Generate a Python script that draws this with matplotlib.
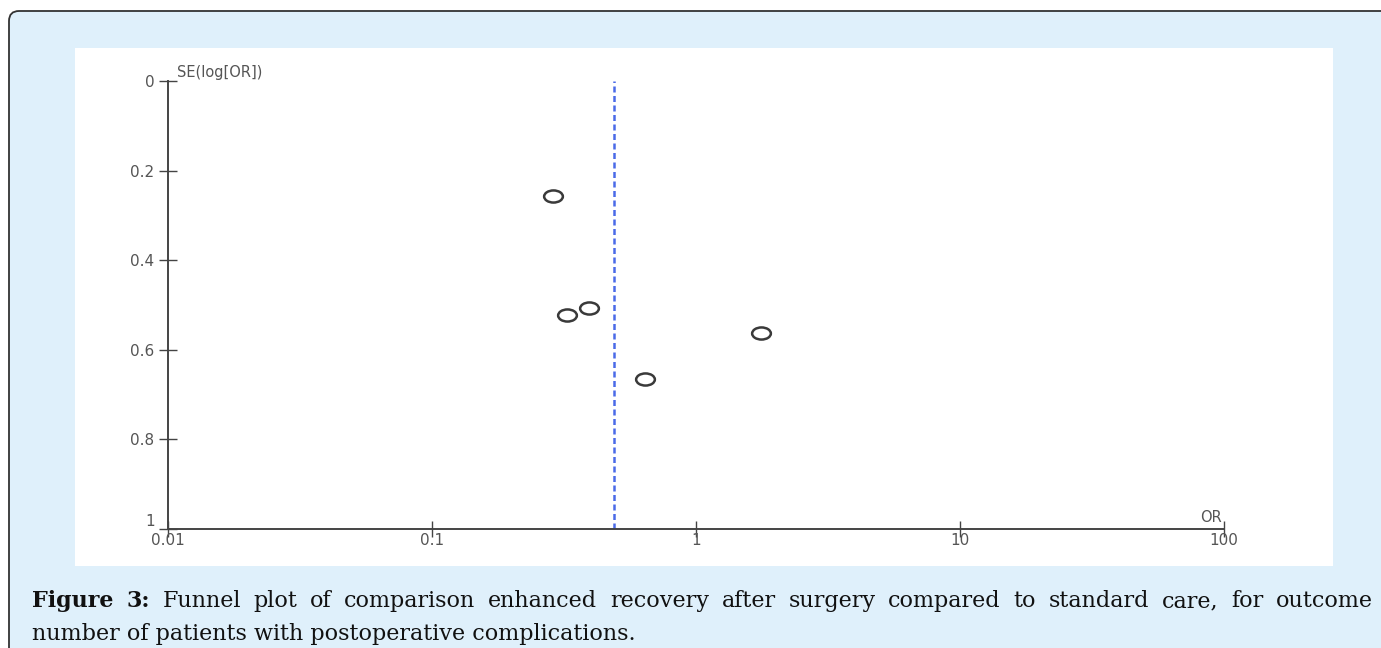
import matplotlib
matplotlib.use("Agg")
import matplotlib.pyplot as plt
from matplotlib.patches import FancyBboxPatch, Rectangle
from matplotlib.path import Path
from matplotlib.transforms import Affine2D

# study odds ratios and their standard errors
odds_ratio = [0.287, 0.325, 0.393, 0.641, 1.762]
se_log_or = [0.257, 0.522, 0.507, 0.665, 0.5625]
pooled_or = 0.489

x_ticks = [0.01, 0.1, 1, 10, 100]
x_labels = ["0.01", "0.1", "1", "10", "100"]
y_ticks = [0, 0.2, 0.4, 0.6, 0.8, 1]
y_labels = ["0", "0.2", "0.4", "0.6", "0.8", "1"]

caption_bold = ["Figure", "3:"]
caption_line1 = "Funnel plot of comparison enhanced recovery after surgery compared to standard care, for outcome"
caption_line2 = "number of patients with postoperative complications."

W, H = 1381, 648
fig = plt.figure(figsize=(W / 100, H / 100), dpi=100)
fig.patch.set_facecolor("white")

# background layer in pixel coordinates
bg = fig.add_axes([0, 0, 1, 1])
bg.set_xlim(0, W)
bg.set_ylim(H, 0)
bg.axis("off")
bg.add_patch(FancyBboxPatch((9, 11), 1500, 800,
                            boxstyle="round,pad=0,rounding_size=10",
                            facecolor="#dff0fb", edgecolor="#333333", lw=1.3))
bg.add_patch(Rectangle((75, 48), 1258, 518, facecolor="white", edgecolor="none"))

# caption, first line justified
cap_size = 16
renderer = fig.canvas.get_renderer()
words = [(w, "bold") for w in caption_bold] + [(w, "normal") for w in caption_line1.split()]
texts = []
for w, wt in words:
    t = bg.text(0, 607, w, fontsize=cap_size, fontweight=wt, family="DejaVu Serif",
                va="baseline", ha="left", color="#111111")
    texts.append(t)
widths = [t.get_window_extent(renderer).width for t in texts]
x0, x1 = 32, 1373
gap = (x1 - x0 - sum(widths)) / (len(texts) - 1)
x = x0
for t, wd in zip(texts, widths):
    t.set_x(x)
    x += wd + gap
bg.text(x0, 640, caption_line2, fontsize=cap_size, family="DejaVu Serif",
        va="baseline", ha="left", color="#111111")

# funnel plot
ax = fig.add_axes([168 / W, 1 - 529 / H, (1224 - 168) / W, (529 - 81) / H])
ax.patch.set_alpha(0)
ax.set_xscale("log")
ax.set_xlim(0.01, 100)
ax.set_ylim(1, 0)

ellipse = Path.unit_circle().transformed(Affine2D().scale(1.55, 1.0))
ax.plot(odds_ratio, se_log_or, linestyle="none", marker=ellipse, markersize=13.5,
        markerfacecolor="none", markeredgecolor="#3a3a3a", markeredgewidth=1.8,
        clip_on=False)
ax.axvline(pooled_or, color="#4a6ae8", lw=1.8, linestyle=(0, (2.4, 1.4)))

for s in ["top", "right"]:
    ax.spines[s].set_visible(False)
for s in ["left", "bottom"]:
    ax.spines[s].set_color("#444444")
    ax.spines[s].set_linewidth(1.4)

ax.set_xticks(x_ticks)
ax.set_xticklabels(x_labels)
ax.minorticks_off()
ax.set_yticks(y_ticks)
ax.set_yticklabels(y_labels)
ax.tick_params(axis="y", direction="inout", length=13.5, width=1.0, color="#444444",
               labelsize=11, labelcolor="#555555", pad=3)
ax.tick_params(axis="x", direction="inout", length=11, width=1.0, color="#444444",
               labelsize=11, labelcolor="#555555", pad=-2.5)
# lift the bottom y label a touch so it sits above "0.01"
ax.get_yticklabels()[-1].set_verticalalignment("bottom")

bg.text(1222, 517, "OR", fontsize=10.5, color="#555555", va="center", ha="right")
bg.text(177, 72, "SE(log[OR])", fontsize=10.5, color="#555555", va="center", ha="left")

fig.savefig("out.png", dpi=100)
